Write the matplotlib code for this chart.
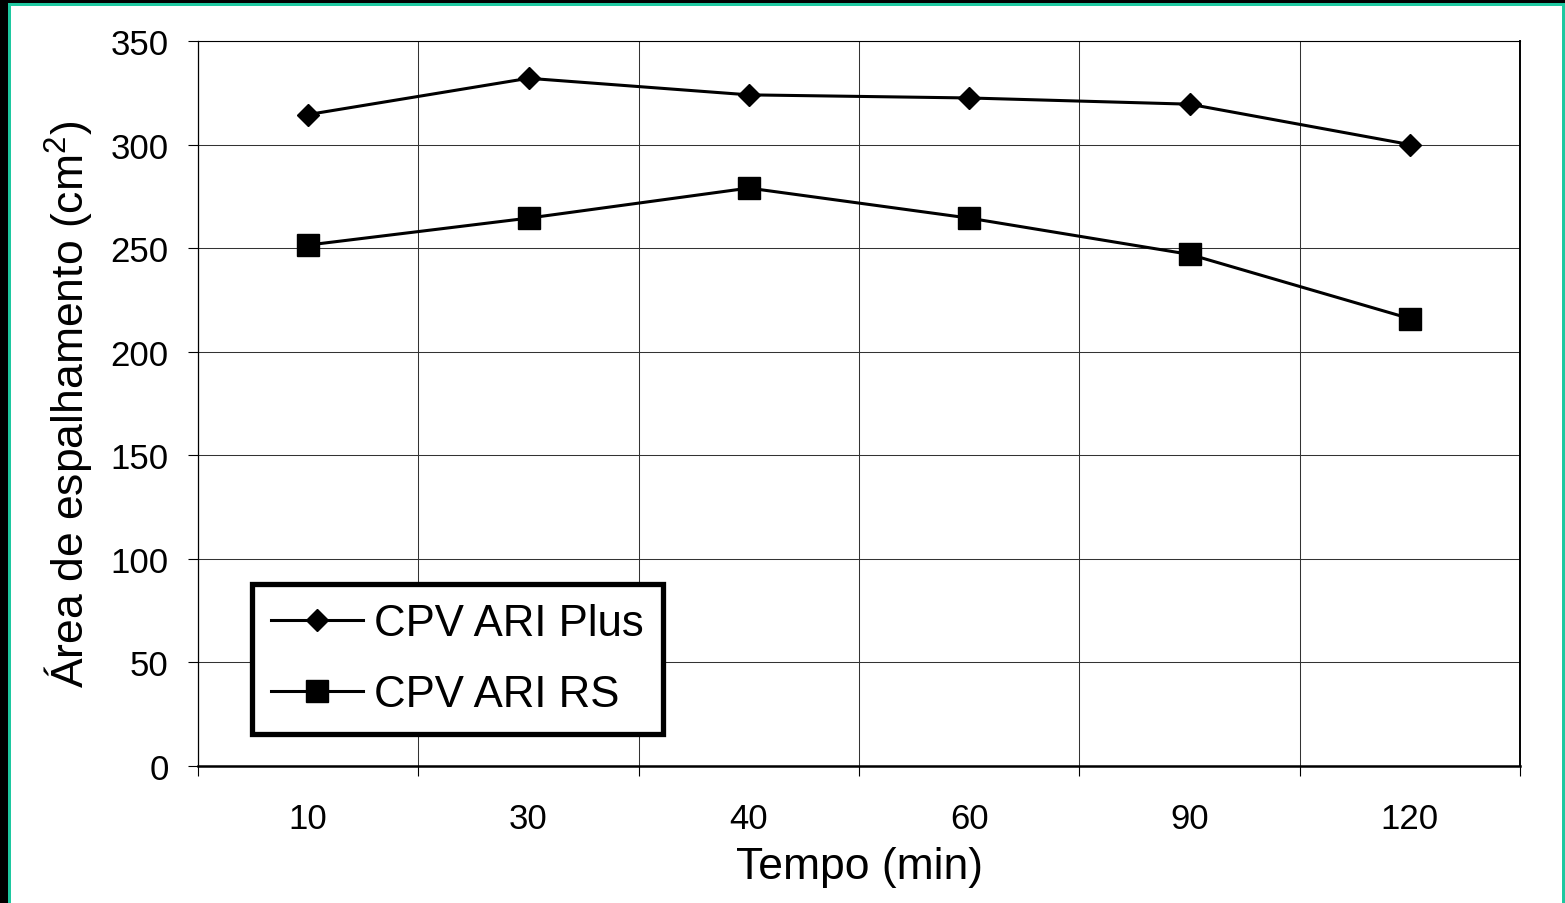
"""Spreading area vs time for two CPV ARI cements."""

import matplotlib
matplotlib.use("Agg")
import matplotlib.pyplot as plt
from matplotlib.patches import Rectangle
from matplotlib.ticker import FixedLocator, NullFormatter, FixedFormatter

# data
tempos = ["10", "30", "40", "60", "90", "120"]
area_plus = [314.5, 332.0, 324.0, 322.5, 319.5, 300.0]
area_rs = [251.5, 264.5, 279.0, 264.5, 247.0, 216.0]
y_ticks = [0, 50, 100, 150, 200, 250, 300, 350]

plt.rcParams["font.family"] = ["Liberation Sans", "DejaVu Sans"]
plt.rcParams["mathtext.fontset"] = "custom"
plt.rcParams["mathtext.rm"] = "Liberation Sans"
plt.rcParams["mathtext.it"] = "Liberation Sans"

W, H, DPI = 1565, 904, 100
fig = plt.figure(figsize=(W / DPI, H / DPI), dpi=DPI)

# axes box in pixels: left 198, right 1520, top 42, bottom 767
ax = fig.add_axes([198 / W, 1 - 767 / H, (1520 - 198) / W, (767 - 42) / H])

x = list(range(len(tempos)))
ax.plot(x, area_plus, color="black", lw=2.2, marker="D", ms=11.5,
        mec="black", mfc="black", label="CPV ARI Plus", zorder=3)
ax.plot(x, area_rs, color="black", lw=2.2, marker="s", ms=16,
        mec="black", mfc="black", label="CPV ARI RS", zorder=3)

ax.set_xlim(-0.5, len(tempos) - 0.5)
ax.set_ylim(0, 350)
ax.set_yticks(y_ticks)

# category boundaries carry ticks & grid, labels sit at the centres
bounds = [i - 0.5 for i in range(len(tempos) + 1)]
ax.xaxis.set_major_locator(FixedLocator(bounds))
ax.xaxis.set_major_formatter(NullFormatter())
ax.xaxis.set_minor_locator(FixedLocator(x))
ax.xaxis.set_minor_formatter(FixedFormatter(tempos))
ax.tick_params(axis="x", which="major", direction="out", length=7.2, width=0.8, color="black")
ax.tick_params(axis="x", which="minor", length=0, pad=26, labelsize=25)
ax.tick_params(axis="y", which="major", direction="out", length=7.2, width=0.8,
               pad=14, labelsize=25)

ax.grid(True, which="major", color="#333333", lw=0.75)
ax.set_axisbelow(True)

ax.spines["left"].set_linewidth(0.9)
ax.spines["top"].set_linewidth(0.8)
ax.spines["right"].set_linewidth(1.4)
ax.spines["bottom"].set_linewidth(1.8)
for s in ax.spines.values():
    s.set_color("black")

ax.set_xlabel("Tempo (min)", fontsize=32, labelpad=8)
ax.set_ylabel(r"Área de espalhamento (cm$^{2}$)", fontsize=32, labelpad=12)

leg = ax.legend(loc="upper left", bbox_to_anchor=(0.0408, 0.251), fontsize=31.5,
                frameon=True, fancybox=False, framealpha=1, edgecolor="black",
                handlelength=2.1, handletextpad=0.25, labelspacing=0.68,
                borderpad=0.44, borderaxespad=0)
leg.get_frame().set_linewidth(3.8)

# slide border: black strip on left/top, green frame line
fig.add_artist(Rectangle((0, 0), 8 / W, 1, transform=fig.transFigure,
                         color="black", lw=0))
fig.add_artist(Rectangle((0, 1 - 4 / H), 1, 4 / H, transform=fig.transFigure,
                         color="black", lw=0))
green = "#1ec8a0"
fig.add_artist(Rectangle((8 / W, 0), 2.5 / W, 1 - 4 / H, transform=fig.transFigure,
                         color=green, lw=0))
fig.add_artist(Rectangle((8 / W, 1 - 6.5 / H), 1 - 8 / W, 2.5 / H,
                         transform=fig.transFigure, color=green, lw=0))
fig.add_artist(Rectangle((1 - 3 / W, 0), 3 / W, 1 - 4 / H, transform=fig.transFigure,
                         color=green, lw=0))

fig.savefig("out.png", dpi=DPI)
